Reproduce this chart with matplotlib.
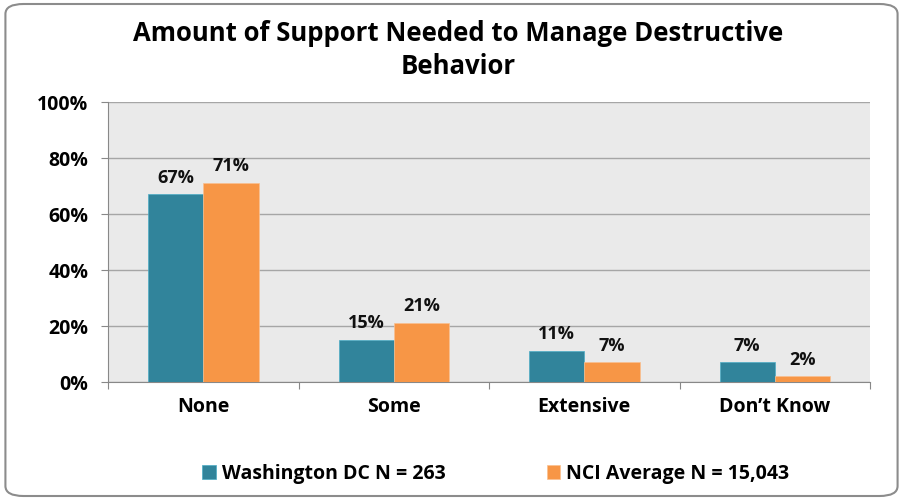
import numpy as np
import matplotlib.pyplot as plt
from matplotlib.patches import FancyBboxPatch
from matplotlib.ticker import FixedLocator, NullFormatter

categories = ['None', 'Some', 'Extensive', 'Don\u2019t Know']
dc_vals = [67, 15, 11, 7]
nci_vals = [71, 21, 7, 2]
series_names = ['Washington DC N = 263', 'NCI Average N = 15,043']

teal = '#31849B'
orange = '#F79646'

plt.rcParams['font.family'] = ['Open Sans', 'DejaVu Sans']
plt.rcParams['font.weight'] = 'bold'

fig = plt.figure(figsize=(9.03, 5.0), dpi=100)
ax = fig.add_axes([0.1196, 0.236, 0.8439, 0.56])

# rounded outer border
fig.patches.append(FancyBboxPatch((0.006, 0.008), 0.988, 0.984,
                                  boxstyle='round,pad=0,rounding_size=0.02',
                                  transform=fig.transFigure, fill=False,
                                  edgecolor='#8C8C8C', linewidth=1.5))

x = np.arange(len(categories))
w = 0.29
b1 = ax.bar(x - w/2, dc_vals, w, color=teal, edgecolor='#4BACC6', linewidth=0.5, label=series_names[0], zorder=3)
b2 = ax.bar(x + w/2, nci_vals, w, color=orange, edgecolor='#FAC090', linewidth=0.5, label=series_names[1], zorder=3)

for bars, vals in ((b1, dc_vals), (b2, nci_vals)):
    for r, v in zip(bars, vals):
        ax.text(r.get_x() + r.get_width()/2, v + 2.8, f'{v}%', ha='center', va='bottom',
                fontsize=13, fontweight='bold', color='#111111')

ax.set_facecolor('#EAEAEA')
ax.set_xlim(-0.5, 3.5)
ax.set_ylim(0, 100)
ax.set_yticks(range(0, 101, 20))
ax.set_yticklabels([f'{t}%' for t in range(0, 101, 20)], fontsize=14, fontweight='bold')
ax.grid(axis='y', color='#A6A6A6', linewidth=1, zorder=0)
ax.set_axisbelow(True)

ax.xaxis.set_major_locator(FixedLocator([-0.5, 0.5, 1.5, 2.5, 3.5]))
ax.xaxis.set_major_formatter(NullFormatter())
ax.xaxis.set_minor_locator(FixedLocator(x))
ax.set_xticklabels(categories, minor=True, fontsize=14, fontweight='bold')
ax.tick_params(axis='x', which='minor', length=0, pad=11)
ax.tick_params(axis='x', which='major', length=5, color='#888888')
ax.tick_params(axis='y', length=5, color='#888888', pad=9)

for s in ('top', 'right'):
    ax.spines[s].set_visible(False)
ax.spines['left'].set_color('#888888')
ax.spines['bottom'].set_color('#888888')

fig.suptitle('Amount of Support Needed to Manage Destructive\nBehavior', x=0.507, y=0.96,
             fontsize=18.5, fontweight='bold', linespacing=1.3)

fig.legend(handles=[b1, b2], labels=series_names, loc='center', bbox_to_anchor=(0.549, 0.052),
           ncol=2, frameon=False, fontsize=14, handlelength=0.7, handleheight=0.7,
           handletextpad=0.3, columnspacing=5.2)

fig.savefig('out.png', dpi=100)
